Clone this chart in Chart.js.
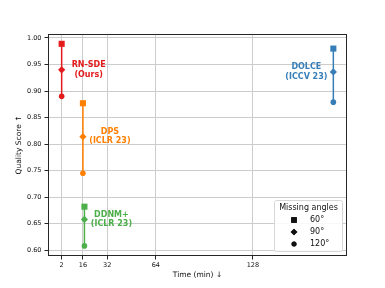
<!DOCTYPE html>
<html>
<head>
<meta charset="utf-8">
<script src="https://cdn.jsdelivr.net/npm/chart.js@4.4.1/dist/chart.umd.min.js"></script>
<style>
  html, body { margin: 0; padding: 0; background: #fff; }
  #wrap { width: 385px; height: 288px; }
</style>
</head>
<body>
<div id="wrap"><canvas id="chart"></canvas></div>
<script>
// data
var methods = ["RN-SDE", "DPS", "DDNM+", "DOLCE"];
var venues = ["(Ours)", "(ICLR 23)", "(ICLR 23)", "(ICCV 23)"];
var times = [2, 16, 17, 181];
var score60 = [0.989, 0.877, 0.682, 0.980];
var score90 = [0.940, 0.814, 0.658, 0.936];
var score120 = [0.890, 0.745, 0.608, 0.879];
var angleLabels = ["60°", "90°", "120°"];
var xTicks = [2, 16, 32, 64, 128];
var yTicks = [0.60, 0.65, 0.70, 0.75, 0.80, 0.85, 0.90, 0.95, 1.00];

var colors = ["#e41a1c", "#ff7f00", "#4daf4a", "#377eb8"];
var markerStyles = ["rect", "rectRot", "circle"];
var markerSizes = [4.3, 3.6, 2.8];
var font = "DejaVu Sans";

var datasets = methods.map(function (m, i) {
    return {
        label: m,
        data: [
            {x: times[i], y: score60[i]},
            {x: times[i], y: score90[i]},
            {x: times[i], y: score120[i]}
        ],
        showLine: true,
        borderColor: colors[i],
        backgroundColor: colors[i],
        borderWidth: 1.5,
        pointStyle: markerStyles,
        pointRadius: markerSizes,
        pointBorderWidth: 0,
        pointHoverRadius: markerSizes
    };
});

// method labels, legend box and frame
var extras = {
    id: "extras",
    afterDatasetsDraw: function (chart) {
        var ctx = chart.ctx;
        var xs = chart.scales.x, ys = chart.scales.y;
        var area = chart.chartArea;
        ctx.save();

        // method names next to the 90° marker
        ctx.font = "bold 8px '" + font + "'";
        ctx.textAlign = "center";
        ctx.textBaseline = "middle";
        methods.forEach(function (m, i) {
            var px = xs.getPixelForValue(times[i]);
            var py = ys.getPixelForValue(score90[i]);
            var cx = px > area.right - 60 ? px - 27 : px + 27;
            ctx.fillStyle = colors[i];
            ctx.fillText(m, cx, py - 4.7);
            ctx.fillText(venues[i], cx, py + 4.7);
        });

        // frame
        ctx.strokeStyle = "#262626";
        ctx.lineWidth = 1;
        ctx.strokeRect(Math.round(area.left) + 0.5, Math.round(area.top) + 0.5,
            Math.round(area.right - area.left) - 1, Math.round(area.bottom - area.top) - 1);

        // legend
        var bx = 274.5, by = 200.5, bw = 68, bh = 51;
        ctx.beginPath();
        if (ctx.roundRect) ctx.roundRect(bx, by, bw, bh, 2); else ctx.rect(bx, by, bw, bh);
        ctx.fillStyle = "rgba(255,255,255,0.85)";
        ctx.fill();
        ctx.strokeStyle = "#d6d6d6";
        ctx.stroke();

        ctx.fillStyle = "#111";
        ctx.font = "8px '" + font + "'";
        ctx.textAlign = "center";
        ctx.fillText("Missing angles", bx + bw / 2, 208);
        ctx.textAlign = "left";
        angleLabels.forEach(function (a, k) {
            var ry = 220 + k * 12;
            Chart.helpers.drawPoint(ctx, {
                pointStyle: markerStyles[k], radius: markerSizes[k] - 0.3, borderWidth: 0, rotation: 0
            }, 294, ry);
            ctx.fillStyle = "#111";
            ctx.fill();
            ctx.fillText(a, 310, ry);
        });
        ctx.restore();
    }
};

var ctx = document.getElementById("chart").getContext("2d");
var myChart = new Chart(ctx, {
    type: "scatter",
    data: {datasets: datasets},
    options: {
        responsive: true,
        maintainAspectRatio: false,
        animation: false,
        events: [],
        layout: {padding: {top: 34, right: 38, left: 0, bottom: 0}},
        plugins: {legend: {display: false}, tooltip: {enabled: false}},
        scales: {
            x: {
                type: "linear",
                min: -7,
                max: 190,
                afterBuildTicks: function (s) { s.ticks = xTicks.map(function (v) { return {value: v}; }); },
                afterFit: function (s) { s.height = 32; },
                grid: {color: "#cccccc", lineWidth: 1, tickLength: 3.5, tickColor: "#262626", drawOnChartArea: true},
                border: {display: false},
                ticks: {
                    autoSkip: false, maxRotation: 0, padding: 2, color: "#111",
                    font: {family: font, size: 6.5},
                    callback: function (v) { return v; }
                },
                title: {
                    display: true, text: "Time (min) ↓", color: "#111",
                    font: {family: font, size: 7.5}, padding: {top: 0, bottom: 8.5}
                }
            },
            y: {
                min: 0.589,
                max: 1.0075,
                afterBuildTicks: function (s) { s.ticks = yTicks.map(function (v) { return {value: v}; }); },
                afterFit: function (s) { s.width = 48; },
                grid: {color: "#cccccc", lineWidth: 1, tickLength: 3.5, tickColor: "#262626"},
                border: {display: false},
                ticks: {
                    autoSkip: false, padding: 3, color: "#111",
                    font: {family: font, size: 6.5},
                    callback: function (v) { return v.toFixed(2); }
                },
                title: {
                    display: true, text: "Quality Score ↑", color: "#111",
                    font: {family: font, size: 7.5}, padding: {top: 14.5, bottom: 0}
                }
            }
        }
    },
    plugins: [extras]
});
</script>
</body>
</html>
